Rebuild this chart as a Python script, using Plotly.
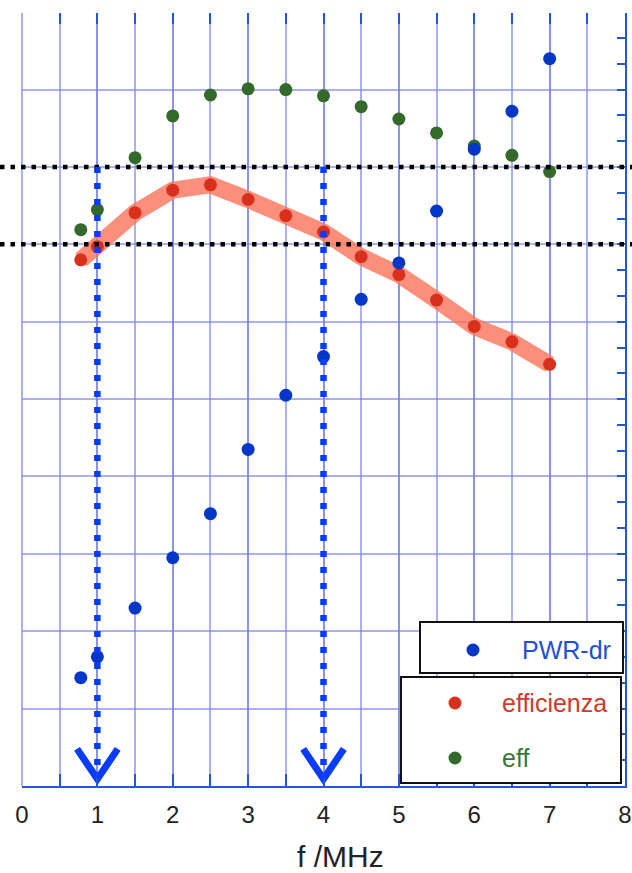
import plotly.graph_objects as go

# Measured series (frequency in MHz, values in grid units)
freq_mhz = [0.78, 1.0, 1.5, 2.0, 2.5, 3.0, 3.5, 4.0, 4.5, 5.0, 5.5, 6.0, 6.5, 7.0]
pwr_dr = [1.40, 1.67, 2.30, 2.95, 3.52, 4.35, 5.05, 5.55, 6.29, 6.76, 7.43, 8.23, 8.72, 9.40]
efficienza = [6.80, 6.97, 7.41, 7.70, 7.77, 7.58, 7.37, 7.16, 6.84, 6.61, 6.28, 5.94, 5.74, 5.45]
eff = [7.19, 7.45, 8.12, 8.66, 8.93, 9.01, 9.00, 8.92, 8.78, 8.62, 8.44, 8.27, 8.15, 7.94]

series_names = ["PWR-dr", "efficienza", "eff"]
x_tick_values = [0, 1, 2, 3, 4, 5, 6, 7, 8]
x_tick_labels = ["0", "1", "2", "3", "4", "5", "6", "7", "8"]

# Band limits and the frequencies where efficienza crosses them
threshold_levels = [7.0, 8.0]
marked_freqs = [1.0, 4.0]

W, H = 632, 873
M_L, M_R, M_T, M_B = 22, 7, 13, 87
PLOT_W = W - M_L - M_R
PLOT_H = H - M_T - M_B

C_GRID = "rgba(120,128,230,0.62)"
C_AXIS = "#2356d8"
C_BLUE = "#0437c8"
C_RED = "#d8301d"
C_GREEN = "#336a2b"
C_BAND = "rgba(250,118,95,0.82)"
C_ARROW = "#0a3cff"
FONT = "Liberation Sans, Arial, sans-serif"


def px_x(p):
    return (p - M_L) / PLOT_W


def px_y(p):
    return (H - M_B - p) / PLOT_H


fig = go.Figure()

# thick salmon band through the efficienza curve
fig.add_trace(go.Scatter(
    x=freq_mhz, y=efficienza, mode="lines",
    line=dict(color=C_BAND, width=17), showlegend=False, hoverinfo="skip"))

fig.add_trace(go.Scatter(
    x=freq_mhz, y=efficienza, mode="markers", name=series_names[1],
    marker=dict(color=C_RED, size=13), showlegend=False))

# open arrowheads at the foot of the drop lines (drawn on the top twin axis,
# which shares the same 0-8 range)
for f in marked_freqs:
    fig.add_trace(go.Scatter(
        x=[f - 0.27, f, f + 0.27], y=[0.48, 0.09, 0.48], mode="lines",
        xaxis="x2", line=dict(color=C_ARROW, width=7),
        showlegend=False, hoverinfo="skip"))

fig.add_trace(go.Scatter(
    x=freq_mhz, y=eff, mode="markers", name=series_names[2],
    marker=dict(color=C_GREEN, size=13), showlegend=False))

fig.add_trace(go.Scatter(
    x=freq_mhz, y=pwr_dr, mode="markers", name=series_names[0],
    marker=dict(color=C_BLUE, size=13), showlegend=False))

shapes = []
# black dotted threshold lines across the full width
for lvl in threshold_levels:
    shapes.append(dict(
        type="line", xref="paper", yref="y",
        x0=px_x(0), x1=px_x(W), y0=lvl, y1=lvl,
        line=dict(color="black", width=4.5, dash="4.5px,6px"), layer="above"))

# blue dotted drop lines from the upper limit down to the axis
top_level = max(threshold_levels)
for f in marked_freqs:
    shapes.append(dict(
        type="line", xref="x", yref="y",
        x0=f, x1=f, y0=top_level, y1=0.1,
        line=dict(color=C_ARROW, width=6.5, dash="6px,10px"), layer="above"))

# legend boxes
shapes.append(dict(type="rect", xref="paper", yref="paper",
                   x0=px_x(420), x1=px_x(623), y0=px_y(673), y1=px_y(622),
                   fillcolor="white", line=dict(color="#111111", width=2), layer="above"))
shapes.append(dict(type="rect", xref="paper", yref="paper",
                   x0=px_x(401), x1=px_x(621), y0=px_y(783), y1=px_y(677),
                   fillcolor="white", line=dict(color="#111111", width=2), layer="above"))

legend_items = [
    (series_names[0], C_BLUE, "#1f4fd6", 473, 520, 650),
    (series_names[1], C_RED, "#cf3a2a", 455, 500, 703),
    (series_names[2], C_GREEN, "#3b7833", 455, 500, 758),
]
annotations = []
for name, mcol, tcol, mx, tx, cy in legend_items:
    shapes.append(dict(type="circle", xref="paper", yref="paper",
                       xsizemode="pixel", ysizemode="pixel",
                       xanchor=px_x(mx), yanchor=px_y(cy),
                       x0=-6.5, x1=6.5, y0=-6.5, y1=6.5,
                       fillcolor=mcol, line=dict(width=0), layer="above"))
    annotations.append(dict(
        text=name, xref="paper", yref="paper", x=px_x(tx), y=px_y(cy),
        xanchor="left", yanchor="middle", showarrow=False,
        font=dict(family=FONT, size=25, color=tcol)))

annotations.append(dict(
    text="f /MHz", xref="paper", yref="paper", x=px_x(340), y=px_y(857),
    xanchor="center", yanchor="middle", showarrow=False,
    font=dict(family=FONT, size=30, color="#222222")))

fig.update_layout(
    width=W, height=H,
    margin=dict(l=M_L, r=M_R, t=M_T, b=M_B, pad=0, autoexpand=False),
    paper_bgcolor="white", plot_bgcolor="white",
    showlegend=False,
    font=dict(family=FONT, color="#222222"),
    shapes=shapes, annotations=annotations,
    xaxis=dict(
        range=[0, 8], tickvals=x_tick_values, ticktext=x_tick_labels,
        ticks="inside", ticklen=12, tickwidth=2, tickcolor=C_AXIS,
        tickfont=dict(size=24, color="#222222"), ticklabelstandoff=6,
        showline=True, linecolor=C_AXIS, linewidth=2, automargin=False,
        showgrid=True, gridcolor=C_GRID, gridwidth=1.5,
        zeroline=True, zerolinecolor=C_GRID, zerolinewidth=1.5,
        minor=dict(dtick=0.5, ticks="inside", ticklen=12, tickwidth=2,
                   tickcolor=C_AXIS, showgrid=True, gridcolor=C_GRID, gridwidth=1.5),
    ),
    xaxis2=dict(
        overlaying="x", side="top", range=[0, 8], dtick=0.5, automargin=False,
        ticks="inside", ticklen=11, tickwidth=2, tickcolor=C_AXIS,
        showticklabels=False, showgrid=False, showline=False, zeroline=False,
    ),
    yaxis=dict(
        range=[0, 9.99], side="right", dtick=1, showticklabels=False,
        ticks="inside", ticklen=8, tickwidth=2, tickcolor=C_AXIS, automargin=False,
        showline=True, linecolor=C_AXIS, linewidth=2,
        showgrid=True, gridcolor=C_GRID, gridwidth=1.5, zeroline=False,
        minor=dict(dtick=1 / 3, ticks="inside", ticklen=8, tickwidth=2,
                   tickcolor=C_AXIS, showgrid=False),
    ),
)

fig.write_html("out.html")
